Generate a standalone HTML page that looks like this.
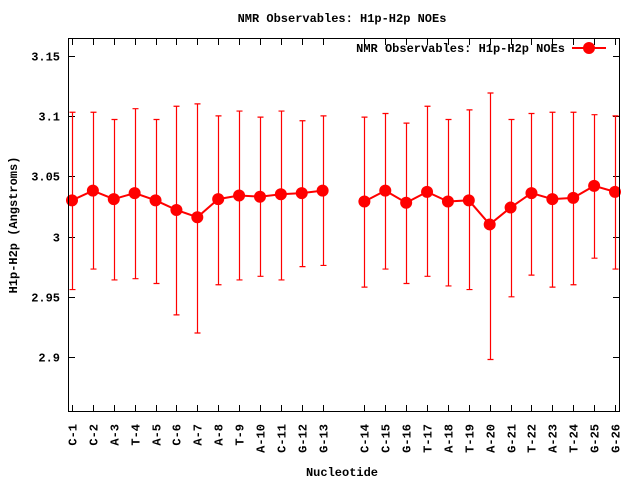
<!DOCTYPE html>
<html><head><meta charset="utf-8"><style>
body{margin:0;background:#fff}
svg text{font-family:"Liberation Mono",monospace;font-weight:bold;font-size:12px;fill:#000}
</style></head><body>
<svg id="c" width="640" height="480" xmlns="http://www.w3.org/2000/svg">
<text x="342" y="22" text-anchor="middle">NMR Observables: H1p-H2p NOEs</text>
<text x="342" y="476" text-anchor="middle">Nucleotide</text>
<text transform="translate(17,225) rotate(-90)" text-anchor="middle">H1p-H2p (Angstroms)</text>
<g id="axes"></g><g id="marks"></g>
<g>
<text x="565" y="52" text-anchor="end">NMR Observables: H1p-H2p NOEs</text>
<line x1="572" y1="48" x2="606" y2="48" stroke="#f00" stroke-width="2"/>
<circle cx="589" cy="48" r="6" fill="#f00"/>
</g>
<rect x="68.5" y="38.5" width="551" height="373" fill="none" stroke="#000" stroke-width="1"/>
</svg>
<script>
const categories=["C-1","C-2","A-3","T-4","A-5","C-6","A-7","A-8","T-9","A-10","C-11","G-12","G-13","C-14","C-15","G-16","T-17","A-18","T-19","A-20","G-21","T-22","A-23","T-24","G-25","G-26"];
const values=[3.030,3.038,3.031,3.036,3.030,3.022,3.016,3.031,3.034,3.033,3.035,3.036,3.038,3.029,3.038,3.028,3.037,3.029,3.030,3.010,3.024,3.036,3.031,3.032,3.042,3.037];
const errHigh=[3.103,3.103,3.097,3.106,3.097,3.108,3.110,3.100,3.104,3.099,3.104,3.096,3.100,3.099,3.102,3.094,3.108,3.097,3.105,3.119,3.097,3.102,3.103,3.103,3.101,3.100];
const errLow=[2.956,2.973,2.964,2.965,2.961,2.935,2.920,2.960,2.964,2.967,2.964,2.975,2.976,2.958,2.973,2.961,2.967,2.959,2.956,2.898,2.950,2.968,2.958,2.960,2.982,2.973];
const yTicks=[2.9,2.95,3,3.05,3.1,3.15];
const yTickLabels=["2.9","2.95","3","3.05","3.1","3.15"];
const NS="http://www.w3.org/2000/svg";
const X=i=>72+( (i<13?i+1:i+2) -1)*20.885;
const Y=v=>236.5-(v-3)*1206;
const axes=document.getElementById('axes'),marks=document.getElementById('marks');
function mk(tag,attrs,parent){const e=document.createElementNS(NS,tag);for(const k in attrs)e.setAttribute(k,attrs[k]);parent.appendChild(e);return e;}
yTicks.forEach((v,i)=>{
 const y=Math.round(Y(v))+0.5;
 const t=mk('line',{x1:68.5,x2:75,y1:y,y2:y,stroke:'#000'},axes);
 
 
 mk('line',{x1:613,x2:619.5,y1:y,y2:y,stroke:'#000'},axes);
 const l=mk('text',{x:60,y:y+4,'text-anchor':'end'},axes);l.textContent=yTickLabels[i];
 
 
});
categories.forEach((c,i)=>{
 const x=Math.round(X(i))+0.5;
 mk('line',{x1:x,x2:x,y1:411.5,y2:405,stroke:'#000'},axes);
 mk('line',{x1:x,x2:x,y1:38.5,y2:45,stroke:'#000'},axes);
 const l=mk('text',{transform:`translate(${x+4},424) rotate(-90)`,'text-anchor':'end'},axes);l.textContent=c;
 
 
 const e=mk('path',{d:`M${x},${Y(errLow[i])}V${Y(errHigh[i])}M${x-3},${Y(errLow[i])}h6M${x-3},${Y(errHigh[i])}h6`,stroke:'#f00','stroke-width':1.2,fill:'none'},marks);
 
 
});
[[0,13],[13,26]].forEach(([a,b])=>{
 let d='';for(let i=a;i<b;i++)d+=(i==a?'M':'L')+X(i)+','+Y(values[i]);
 const p=mk('path',{d:d,stroke:'#f00','stroke-width':2,fill:'none'},marks);
 
 
});
values.forEach((v,i)=>{
 const c=mk('circle',{cx:X(i),cy:Y(v),r:6,fill:'#f00'},marks);
 
 
});
</script>
</body></html>
